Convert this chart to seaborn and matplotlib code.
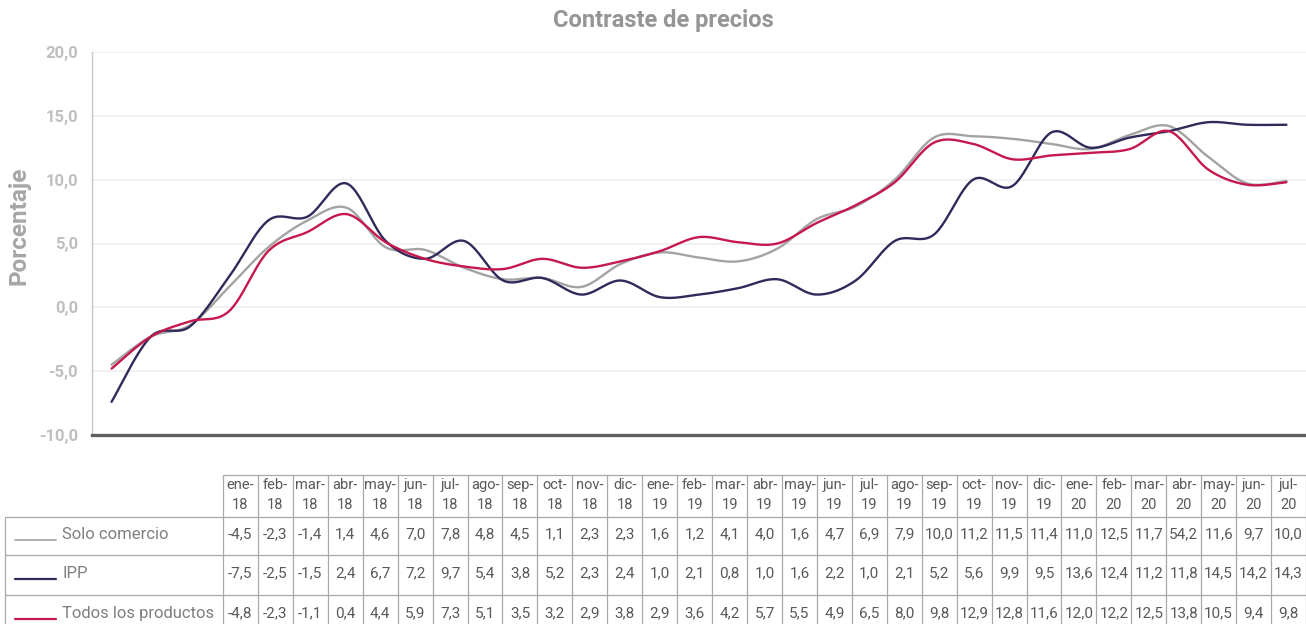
import numpy as np
import pandas as pd
import matplotlib
matplotlib.use('Agg')
import matplotlib.pyplot as plt
import seaborn as sns

# Meses (eje x y cabecera de la tabla)
meses = ['ene', 'feb', 'mar', 'abr', 'may', 'jun', 'jul', 'ago', 'sep', 'oct', 'nov', 'dic'] * 2 + \
        ['ene', 'feb', 'mar', 'abr', 'may', 'jun', 'jul']
anios = ['18'] * 12 + ['19'] * 12 + ['20'] * 7

# Valores de las curvas
solo_comercio = [-4.5, -2.3, -1.4, 1.6, 4.7, 6.8, 7.8, 4.7, 4.5, 3.1, 2.2, 2.3, 1.6, 3.4, 4.3, 3.9,
                 3.6, 4.6, 6.9, 7.9, 10.0, 13.3, 13.4, 13.2, 12.8, 12.4, 13.5, 14.2, 11.8, 9.7, 9.9]
ipp = [-7.4, -2.3, -1.5, 2.4, 6.8, 7.1, 9.7, 5.2, 3.8, 5.2, 2.1, 2.3, 1.0, 2.1, 0.8, 1.0,
       1.5, 2.2, 1.0, 2.1, 5.2, 5.7, 10.0, 9.5, 13.7, 12.5, 13.3, 13.8, 14.5, 14.3, 14.3]
todos = [-4.8, -2.3, -1.1, -0.3, 4.4, 5.9, 7.3, 5.1, 3.8, 3.2, 3.0, 3.8, 3.1, 3.6, 4.4, 5.5,
         5.1, 5.0, 6.6, 8.0, 9.8, 12.9, 12.8, 11.6, 11.9, 12.1, 12.4, 13.8, 10.8, 9.6, 9.8]

# Valores tal como aparecen en la tabla de datos
tabla_solo_comercio = [-4.5, -2.3, -1.4, 1.4, 4.6, 7.0, 7.8, 4.8, 4.5, 1.1, 2.3, 2.3, 1.6, 1.2, 4.1, 4.0,
                       1.6, 4.7, 6.9, 7.9, 10.0, 11.2, 11.5, 11.4, 11.0, 12.5, 11.7, 54.2, 11.6, 9.7, 10.0]
tabla_ipp = [-7.5, -2.5, -1.5, 2.4, 6.7, 7.2, 9.7, 5.4, 3.8, 5.2, 2.3, 2.4, 1.0, 2.1, 0.8, 1.0,
             1.6, 2.2, 1.0, 2.1, 5.2, 5.6, 9.9, 9.5, 13.6, 12.4, 11.2, 11.8, 14.5, 14.2, 14.3]
tabla_todos = [-4.8, -2.3, -1.1, 0.4, 4.4, 5.9, 7.3, 5.1, 3.5, 3.2, 2.9, 3.8, 2.9, 3.6, 4.2, 5.7,
               5.5, 4.9, 6.5, 8.0, 9.8, 12.9, 12.8, 11.6, 12.0, 12.2, 12.5, 13.8, 10.5, 9.4, 9.8]

series = ['Solo comercio', 'IPP', 'Todos los productos']
colores = {'Solo comercio': '#A3A3A3', 'IPP': '#2F2A5A', 'Todos los productos': '#C5184D'}
y_ticks = [-10, -5, 0, 5, 10, 15, 20]


def coma(v):
    return f'{v:.1f}'.replace('.', ',')


def suavizar(valores, pasos=24):
    # curva suave tipo Excel (Bezier de Catmull-Rom) que pasa por cada punto
    pts = np.column_stack([np.arange(len(valores)), np.asarray(valores, float)])
    ext = np.vstack([pts[0], pts, pts[-1]])
    t = np.linspace(0, 1, pasos, endpoint=False)[:, None]
    trozos = []
    for i in range(len(pts) - 1):
        p0, p1, p2, p3 = ext[i], ext[i + 1], ext[i + 2], ext[i + 3]
        b1 = p1 + (p2 - p0) / 6
        b2 = p2 - (p3 - p1) / 6
        trozos.append((1 - t) ** 3 * p1 + 3 * (1 - t) ** 2 * t * b1 + 3 * (1 - t) * t ** 2 * b2 + t ** 3 * p2)
    trozos.append(pts[-1:])
    return np.vstack(trozos)


sns.set_theme(style='white')
plt.rcParams['font.family'] = ['Roboto', 'DejaVu Sans']

frames = []
for nombre, vals in zip(series, [solo_comercio, ipp, todos]):
    s = suavizar(vals)
    frames.append(pd.DataFrame({'x': s[:, 0], 'y': s[:, 1], 'serie': nombre}))
df = pd.concat(frames, ignore_index=True)

W, H = 1306, 624
fig = plt.figure(figsize=(W / 100, H / 100), dpi=100)
ax = fig.add_axes([92 / W, 1 - 435 / H, (W - 92) / W, 383 / H])

sns.lineplot(data=df, x='x', y='y', hue='serie', palette=colores, sort=False,
             estimator=None, linewidth=1.7, legend=False, ax=ax)

ax.set_xlim(-0.5, len(meses) - 0.5)
ax.set_ylim(-10, 20)
ax.set_yticks(y_ticks)
ax.set_yticklabels([coma(v) for v in y_ticks], fontsize=12, fontweight='bold', color='#BFBFBF')
ax.set_xticks([])
ax.tick_params(axis='y', length=0, pad=10)
ax.grid(axis='y', color='#F0F0F0', linewidth=1.3)
ax.set_axisbelow(True)
for lado in ['top', 'right']:
    ax.spines[lado].set_visible(False)
ax.spines['left'].set_color('#C8C8C8')
ax.spines['left'].set_linewidth(1.0)
ax.spines['bottom'].set_color('#5F5F5F')
ax.spines['bottom'].set_linewidth(2.4)
ax.set_xlabel('')
ax.set_ylabel('Porcentaje', fontsize=17.5, fontweight='bold', color='#A6A6A6')
ax.yaxis.set_label_coords(-0.051, 0.545)

fig.text(663 / W, 1 - 21 / H, 'Contraste de precios', ha='center', va='center',
         fontsize=17, fontweight='bold', color='#959595')

# --- Tabla de datos ---
tax = fig.add_axes([0, 0, 1, 1])
tax.set_xlim(0, W)
tax.set_ylim(H, 0)
tax.axis('off')

x0, cw = 223, (W - 223) / len(meses)
filas = [475, 517, 555, 595, 635]
borde = '#A8A8A8'
tax.hlines(filas[0], x0, W, color=borde, lw=0.9)
tax.hlines(filas[1:4], 5, W, color=borde, lw=0.9)
tax.vlines([x0 + j * cw for j in range(len(meses) + 1)], filas[0], filas[-1], color=borde, lw=0.9)
tax.vlines(5, filas[1], filas[-1], color=borde, lw=0.9)

for j, (m, a) in enumerate(zip(meses, anios)):
    xc = x0 + (j + 0.5) * cw
    tax.text(xc, 485, m + '-', ha='center', va='center', fontsize=10.5, color='#595959')
    tax.text(xc, 505, a, ha='center', va='center', fontsize=10.5, color='#595959')

for k, (nombre, vals) in enumerate(zip(series, [tabla_solo_comercio, tabla_ipp, tabla_todos])):
    yc = (filas[k + 1] + filas[k + 2]) / 2 - 1.5
    tax.plot([15, 56], [yc + 5, yc + 5], color=colores[nombre], lw=1.6 if k else 1.2)
    tax.text(62, yc, nombre, ha='left', va='center', fontsize=12, color='#7F7F7F')
    for j, v in enumerate(vals):
        tax.text(x0 + (j + 0.5) * cw, yc, coma(v), ha='center', va='center',
                 fontsize=11, color='#595959')

plt.savefig('out.png', dpi=100)
